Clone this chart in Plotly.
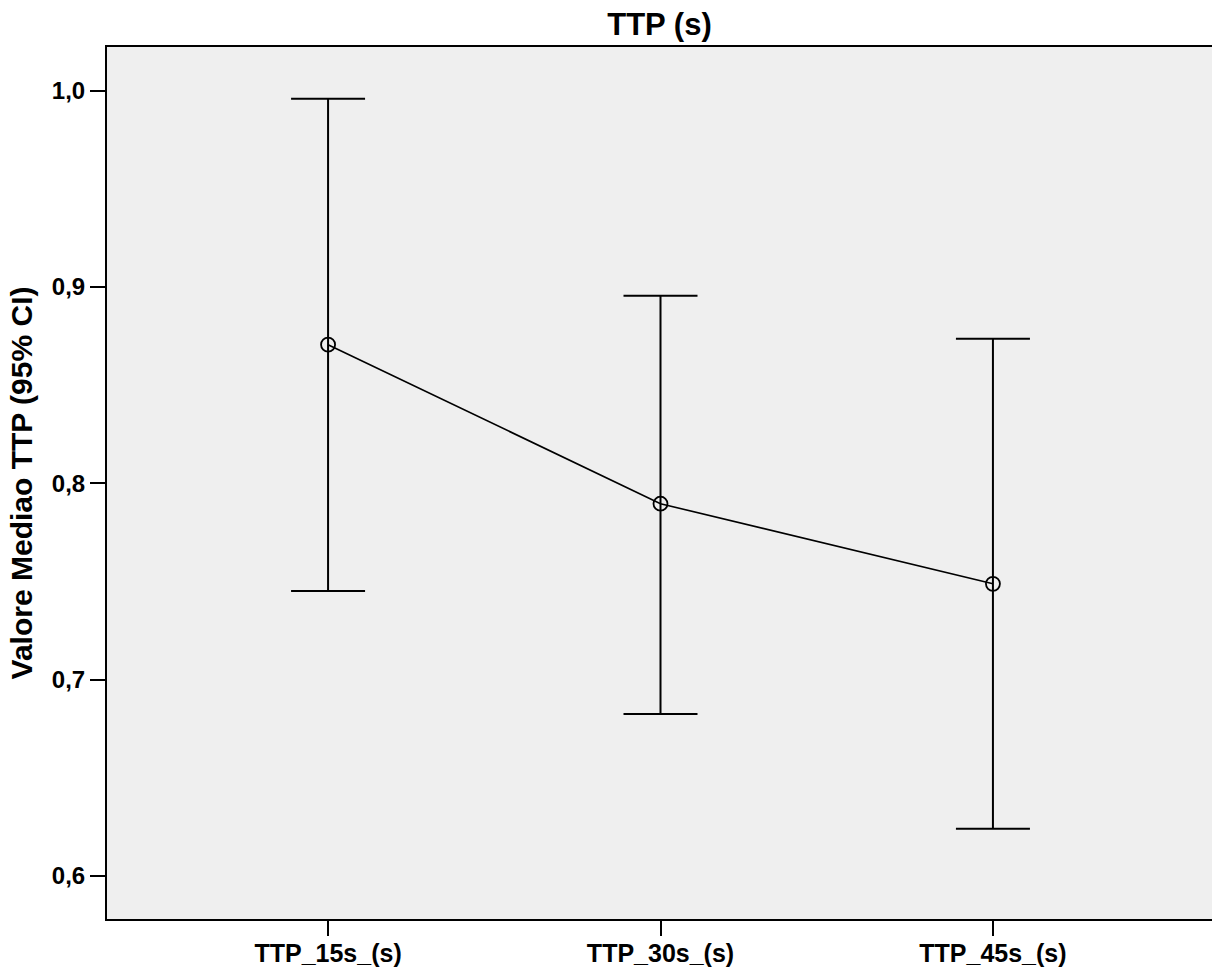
import plotly.graph_objects as go

categories = ["TTP_15s_(s)", "TTP_30s_(s)", "TTP_45s_(s)"]
means = [0.8706, 0.7896, 0.7488]
ci_upper = [0.9959, 0.8955, 0.8736]
ci_lower = [0.7452, 0.6825, 0.6240]
y_ticks = [0.6, 0.7, 0.8, 0.9, 1.0]
y_tick_labels = ["0,6", "0,7", "0,8", "0,9", "1,0"]

xpos = list(range(len(categories)))
err_plus = [u - m for u, m in zip(ci_upper, means)]
err_minus = [m - l for m, l in zip(means, ci_lower)]

FONT = "Liberation Sans, Arial, sans-serif"

fig = go.Figure()
fig.add_trace(go.Scatter(
    x=xpos, y=means, mode="lines+markers",
    line=dict(color="black", width=1.6),
    marker=dict(symbol="circle-open", size=14, color="black", line=dict(width=1.8)),
    error_y=dict(type="data", symmetric=False, array=err_plus, arrayminus=err_minus,
                 color="black", thickness=2, width=37),
    showlegend=False, hoverinfo="skip",
))

fig.update_layout(
    width=1212, height=970,
    margin=dict(l=107, r=0, t=47, b=51),
    paper_bgcolor="white", plot_bgcolor="#efefef",
    title=dict(text="<b>TTP (s)</b>", x=0.5, xanchor="center", xref="paper",
               y=1 - 24 / 970, yanchor="middle",
               font=dict(family=FONT, size=31, color="black")),
    font=dict(family=FONT, color="black"),
)
fig.update_xaxes(
    range=[-0.665, 2.659], tickvals=xpos,
    ticktext=["<b>%s</b>" % c for c in categories],
    tickfont=dict(family=FONT, size=25, color="black"),
    ticklabelstandoff=-4,
    showgrid=False, zeroline=False,
    showline=True, linecolor="black", linewidth=2, mirror=True,
    ticks="outside", ticklen=15, tickwidth=2, tickcolor="black",
)
fig.update_yaxes(
    range=[0.5781, 1.0222], tickvals=y_ticks,
    ticktext=["<b>%s</b>" % t for t in y_tick_labels],
    tickfont=dict(family=FONT, size=24, color="black"),
    showgrid=False, zeroline=False,
    showline=True, linecolor="black", linewidth=2,
    ticks="outside", ticklen=15, tickwidth=2, tickcolor="black",
    title=dict(text="<b>Valore Mediao TTP (95% CI)</b>", standoff=10,
               font=dict(family=FONT, size=30, color="black")),
)

fig.write_html("out.html")
